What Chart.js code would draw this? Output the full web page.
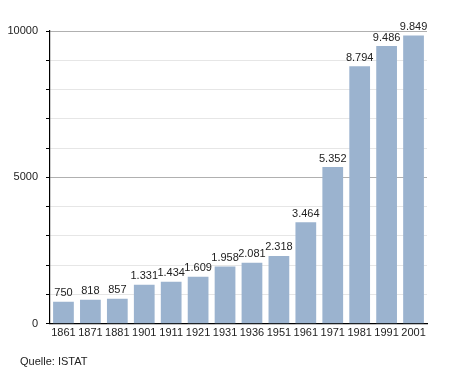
<!DOCTYPE html>
<html>
<head>
<meta charset="utf-8">
<script src="https://cdn.jsdelivr.net/npm/chart.js@4/dist/chart.umd.min.js"></script>
<style>
  html, body { margin: 0; padding: 0; background: #fff; }
  #wrap { width: 455px; height: 373px; }
</style>
</head>
<body>
<div id="wrap"><canvas id="chart" width="455" height="373"></canvas></div>
<script>
const years = ["1861","1871","1881","1901","1911","1921","1931","1936","1951","1961","1971","1981","1991","2001"];
const population = [750, 818, 857, 1331, 1434, 1609, 1958, 2081, 2318, 3464, 5352, 8794, 9486, 9849];
const yLabeled = [0, 5000, 10000];
const sourceNote = "Quelle: ISTAT";

const FONT = "'Liberation Sans', Arial, sans-serif";

// values above the bars, German thousands separator, plus the source line
const valueLabels = {
  id: "valueLabels",
  afterDatasetsDraw(chart) {
    const ctx = chart.ctx;
    const meta = chart.getDatasetMeta(0);
    ctx.save();
    ctx.font = "11px " + FONT;
    ctx.fillStyle = "#222";
    ctx.textAlign = "center";
    ctx.textBaseline = "bottom";
    meta.data.forEach((bar, i) => {
      ctx.fillText(population[i].toLocaleString("de-DE"), bar.x, bar.y - 3);
    });
    ctx.textAlign = "left";
    ctx.textBaseline = "middle";
    ctx.fillText(sourceNote, 20, 362);
    ctx.restore();
  }
};

new Chart(document.getElementById("chart"), {
  type: "bar",
  data: {
    labels: years,
    datasets: [{
      data: population,
      backgroundColor: "#9bb3cf",
      borderWidth: 0,
      categoryPercentage: 1,
      barPercentage: 0.77
    }]
  },
  options: {
    responsive: false,
    animation: false,
    layout: { padding: { left: 0, right: 28, top: 31, bottom: 30 } },
    plugins: {
      legend: { display: false },
      tooltip: { enabled: false }
    },
    scales: {
      x: {
        grid: { display: false, drawTicks: false },
        border: { color: "#000", width: 1.2 },
        ticks: { color: "#222", font: { family: FONT, size: 11 }, padding: 3, maxRotation: 0, autoSkip: false }
      },
      y: {
        min: 0,
        max: 10000,
        afterFit(scale) { scale.width = 50; },
        border: { color: "#000", width: 1.2 },
        grid: {
          color: (c) => (c.tick && c.tick.value % 5000 === 0) ? "#b0b0b0" : "#e6e6e6",
          tickColor: "#000",
          tickLength: 4,
          drawOnChartArea: true
        },
        ticks: {
          stepSize: 1000,
          padding: 8,
          color: "#222",
          font: { family: FONT, size: 11 },
          callback: (v) => yLabeled.includes(v) ? String(v) : ""
        }
      }
    }
  },
  plugins: [valueLabels]
});
</script>
</body>
</html>
